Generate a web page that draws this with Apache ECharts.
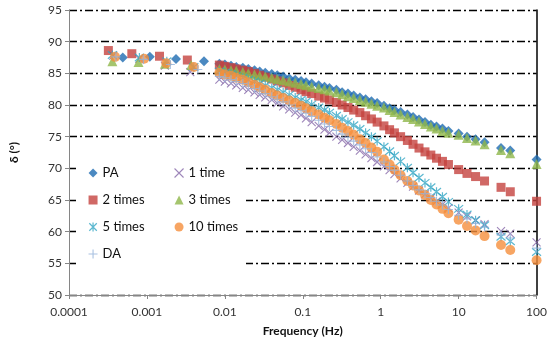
<!DOCTYPE html>
<html><head><meta charset="utf-8">
<script src="https://cdn.jsdelivr.net/npm/echarts/dist/echarts.min.js"></script>
<style>html,body{margin:0;padding:0;background:#fff}#c{width:550px;height:343px}</style>
</head><body><div id="c"></div>
<script>
// ---- data ----
const xTickLabels = ['0.0001','0.001','0.01','0.1','1','10','100'];
const seriesNames = ['PA','1 time','2 times','3 times','5 times','10 times','DA'];

// shared frequencies (Hz) of the dense middle part and the sparse high part
const fDense = [0.0085,0.010,0.012,0.014,0.017,0.020,0.024,0.028,0.033,0.040,0.047,0.056,0.067,0.080,0.095,0.11,0.13,0.16,0.19,0.22,0.27,0.32,0.38,0.45,0.54,0.64,0.76,0.90,1.1,1.3,1.5,1.8,2.2,2.6,3.1,3.7,4.4,5.2,6.2,7.4];
const fHigh = [10,12.8,16.5,21.5,35,46,100];

// low-frequency points (per series)
const paLowF  = [0.00049,0.00109,0.00236,0.0054];  const paLowD  = [87.5,87.6,87.25,86.9];
const t1LowF  = [0.00037,0.0008,0.0017,0.0036];    const t1LowD  = [87.8,87.3,86.2,85.2];
const t2LowF  = [0.00032,0.00064,0.00145,0.0033];  const t2LowD  = [88.6,88.1,87.7,87.1];
const t3LowF  = [0.00036,0.00078,0.0017,0.0037];   const t3LowD  = [86.9,86.8,86.5,86.3];
const t5LowF  = [0.00036,0.0008,0.0018,0.004];     const t5LowD  = [87.9,87.5,86.9,86.0];
const t10LowF = [0.00039,0.00092,0.00177,0.0040];  const t10LowD = [87.6,87.3,86.6,86.0];
const daLowF  = [0.0004,0.0009,0.002,0.0045];      const daLowD  = [87.6,87.2,86.4,85.6];

// delta values at fDense
const paMid  = [86.5,86.4,86.2,86.0,85.9,85.7,85.5,85.3,85.1,84.9,84.7,84.5,84.2,84.0,83.8,83.6,83.4,83.1,82.9,82.7,82.4,82.0,81.8,81.5,81.2,80.9,80.6,80.3,79.9,79.5,79.2,78.9,78.5,78.1,77.7,77.3,76.9,76.6,76.3,75.9];
const t1Mid  = [84.0,83.7,83.4,83.1,82.7,82.4,82.0,81.6,81.2,80.8,80.3,79.8,79.3,78.8,78.4,77.9,77.3,76.7,76.1,75.6,75.0,74.5,74.0,73.4,72.8,72.2,71.6,71.0,70.3,69.7,69.1,68.4,67.7,67.1,66.5,65.9,65.3,64.8,64.3,63.7];
const t2Mid  = [86.3,86.1,85.9,85.7,85.5,85.3,85.0,84.7,84.4,84.1,83.8,83.5,83.1,82.8,82.4,82.1,81.8,81.4,81.1,80.8,80.4,80.0,79.6,79.2,78.8,78.3,77.8,77.3,76.7,76.1,75.6,75.0,74.4,73.8,73.2,72.6,72.1,71.6,71.1,70.6];
const t3Mid  = [85.7,85.6,85.5,85.4,85.2,85.0,84.8,84.6,84.5,84.3,84.1,83.9,83.7,83.5,83.3,83.1,82.9,82.7,82.5,82.3,82.0,81.7,81.4,81.1,80.8,80.5,80.2,79.9,79.6,79.2,78.9,78.5,78.1,77.8,77.4,77.0,76.6,76.3,75.9,75.6];
const t5Mid  = [85.3,85.1,84.9,84.6,84.3,84.0,83.7,83.4,83.1,82.7,82.4,82.0,81.6,81.2,80.8,80.5,80.1,79.6,79.2,78.8,78.3,77.8,77.3,76.8,76.2,75.6,75.0,74.3,73.4,72.7,72.0,71.1,70.1,69.3,68.5,67.7,67.0,66.3,65.5,64.7];
const t10Mid = [85.1,84.8,84.6,84.3,84.0,83.6,83.2,82.8,82.4,81.9,81.5,81.1,80.7,80.3,79.9,79.5,79.0,78.5,78.0,77.6,77.0,76.4,75.9,75.3,74.6,74.0,73.3,72.6,71.4,70.6,69.8,68.9,68.0,67.3,66.5,65.8,65.0,64.3,63.6,62.9];
const daMid  = [84.5,84.3,84.0,83.7,83.4,83.0,82.6,82.2,81.8,81.3,80.9,80.5,80.0,79.5,79.1,78.7,78.2,77.6,77.0,76.6,76.0,75.4,74.9,74.3,73.7,73.1,72.5,71.8,71.0,70.3,69.7,68.9,68.0,67.3,66.6,66.0,65.4,64.8,64.2,63.5];

// delta values at fHigh
const paHigh  = [75.5,75.0,74.6,74.1,73.2,72.8,71.4];
const t1High  = [63.0,62.4,61.8,61.2,60.1,59.7,58.3];
const t2High  = [69.8,69.2,68.7,68.0,67.0,66.3,64.8];
const t3High  = [75.3,74.8,74.4,73.8,72.9,72.4,70.7];
const t5High  = [63.6,62.7,61.8,61.0,59.2,58.5,56.8];
const t10High = [61.9,60.9,60.2,59.3,57.9,57.1,55.5];
const daHigh  = [62.6,62.0,61.3,60.7,59.5,59.0,57.4];

// ---- build ----
function pts(lowF, lowD, mid, high) {
  const f = lowF.concat(fDense, fHigh);
  const d = lowD.concat(mid, high);
  return f.map((v, i) => [v, d[i]]);
}
const FONT = 'Lato, "Liberation Sans", sans-serif';
const X_PATH = 'path://M0,0L10,10M0,10L10,0';
const STAR_PATH = 'path://M0,0L10,10M0,10L10,0M5,-1L5,11';
const PLUS_PATH = 'path://M5,0L5,10M0,5L10,5';

const defs = [
  {name:'PA',       color:'#1E6CB2', symbol:'diamond',  size:10, stroke:false, lw:0,   data:pts(paLowF,paLowD,paMid,paHigh)},
  {name:'1 time',   color:'#8466A8', symbol:X_PATH,     size:8,  stroke:true,  lw:1.1, data:pts(t1LowF,t1LowD,t1Mid,t1High)},
  {name:'2 times',  color:'#C4423F', symbol:'rect',     size:9,  stroke:false, lw:0,   data:pts(t2LowF,t2LowD,t2Mid,t2High)},
  {name:'3 times',  color:'#8FB74A', symbol:'triangle', size:10, stroke:false, lw:0,   data:pts(t3LowF,t3LowD,t3Mid,t3High)},
  {name:'5 times',  color:'#33A6C4', symbol:STAR_PATH,  size:9,  stroke:true,  lw:1.2, data:pts(t5LowF,t5LowD,t5Mid,t5High)},
  {name:'10 times', color:'#F58F3C', symbol:'circle',   size:10, stroke:false, lw:0,   data:pts(t10LowF,t10LowD,t10Mid,t10High)},
  {name:'DA',       color:'#93B2DA', symbol:PLUS_PATH,  size:9,  stroke:true,  lw:1.1, data:pts(daLowF,daLowD,daMid,daHigh)}
];

const series = defs.map(d => ({
  type:'scatter', name:d.name, data:d.data, symbol:d.symbol, symbolSize:d.size,
  itemStyle: d.stroke ? {color:d.color, borderColor:d.color, borderWidth:d.lw} : {color:d.color},
  emphasis:{disabled:true}, animation:false
}));

function legendItem(n) {
  const d = defs.find(x => x.name === n);
  return {name:n, icon:d.symbol,
    itemStyle: d.stroke ? {color:d.color, borderColor:d.color, borderWidth:d.lw} : {color:d.color, borderWidth:0}};
}
const legendBase = {orient:'vertical', itemGap:13, itemWidth:9, itemHeight:9, padding:0,
  textStyle:{fontSize:13, fontFamily:FONT, color:'#111', lineHeight:14}, selectedMode:false};

const chart = echarts.init(document.getElementById('c'), null, {renderer:'canvas'});
chart.setOption({
  animation:false,
  backgroundColor:'#fff',
  grid:{left:63, right:13, top:10, bottom:48},
  xAxis:{type:'log', logBase:10, min:0.0001, max:100,
    name:'Frequency (Hz)', nameLocation:'middle', nameGap:30,
    nameTextStyle:{fontFamily:FONT, fontSize:12, fontWeight:'bold', color:'#111'},
    axisLine:{lineStyle:{color:'#868686', width:1}},
    axisTick:{show:true, length:4, lineStyle:{color:'#868686'}},
    splitLine:{show:false},
    axisLabel:{margin:11, fontFamily:FONT, fontSize:12, color:'#333',
      formatter: v => { const l = xTickLabels.find(s => Math.abs(Math.log10(parseFloat(s)) - Math.log10(v)) < 1e-6); return l || ''; }}
  },
  yAxis:[{type:'value', min:50, max:95, interval:5,
    name:'δ (°)', nameLocation:'middle', nameGap:49, nameRotate:90,
    nameTextStyle:{fontFamily:FONT, fontSize:12, fontWeight:'bold', color:'#111'},
    axisLine:{show:true, lineStyle:{color:'#868686', width:1}},
    axisTick:{show:true, length:4, lineStyle:{color:'#868686'}},
    axisLabel:{margin:7, fontFamily:FONT, fontSize:12, color:'#333'},
    splitLine:{show:true, lineStyle:{color:'#000', width:1.4, type:[8,3,2,3]}}
  },{type:'value', min:50, max:95, position:'right',
    axisLine:{show:true, lineStyle:{color:'#000', width:1.5}},
    axisTick:{show:false}, axisLabel:{show:false}, splitLine:{show:false}
  }],
  graphic:[{type:'rect', z:1, shape:{x:76, y:146, width:170, height:128}, style:{fill:'#fff'}}],
  legend:[
    Object.assign({left:88, top:166, data:['PA','2 times','5 times','DA'].map(legendItem)}, legendBase),
    Object.assign({left:174, top:166, data:['1 time','3 times','10 times'].map(legendItem)}, legendBase)
  ],
  series: series
});
</script></body></html>
